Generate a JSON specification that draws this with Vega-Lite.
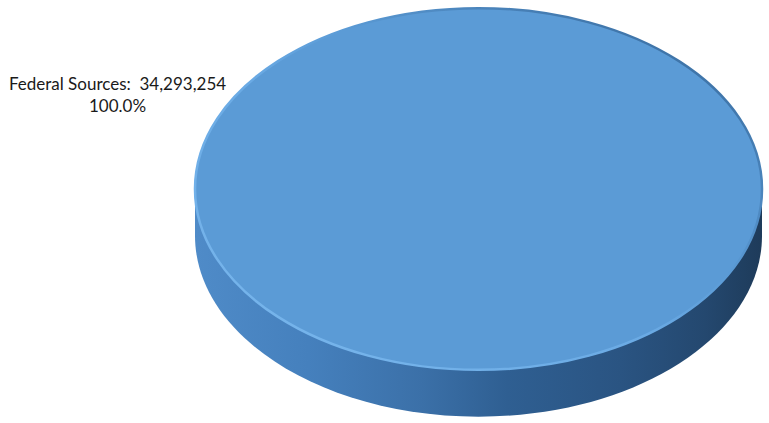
{
  "$schema": "https://vega.github.io/schema/vega-lite/v6.json",
  "width": 581,
  "height": 378,
  "autosize": {"type": "none"},
  "padding": {"left": 188, "right": 0, "top": 0, "bottom": 45},
  "background": "white",
  "config": {"view": {"stroke": null}},
  "data": {"values": [{"source": "Federal Sources", "amount": 34293254, "share": 1.0}]},
  "layer": [
    {
      "mark": {
        "type": "point",
        "filled": true,
        "opacity": 1,
        "size": 321489,
        "shape": "M -1 0 L -1 0.165 A 1 0.638 0 0 0 1 0.165 L 1 0 Z",
        "fill": {
          "gradient": "linear",
          "x1": 0, "y1": 0, "x2": 1, "y2": 0,
          "stops": [
            {"offset": 0, "color": "#4f8bc8"},
            {"offset": 0.2, "color": "#4580bd"},
            {"offset": 0.4, "color": "#3b70a8"},
            {"offset": 0.55, "color": "#2f5f92"},
            {"offset": 0.75, "color": "#2a5482"},
            {"offset": 0.9, "color": "#24486f"},
            {"offset": 1, "color": "#1e3b5a"}
          ]
        },
        "stroke": null
      }
    },
    {
      "mark": {
        "type": "point",
        "filled": true,
        "opacity": 1,
        "size": 321489,
        "shape": "M -1 0 A 1 0.638 0 1 0 1 0 A 1 0.638 0 1 0 -1 0 Z",
        "fill": "#5b9bd6",
        "stroke": {
          "gradient": "linear",
          "x1": 0, "y1": 1, "x2": 1, "y2": 0,
          "stops": [
            {"offset": 0, "color": "#7ab8ee"},
            {"offset": 0.45, "color": "#6aaae4"},
            {"offset": 0.6, "color": "#5b9bd6"},
            {"offset": 1, "color": "#2f5f90"}
          ]
        },
        "strokeWidth": 2.5
      }
    },
    {
      "transform": [
        {"calculate": "datum.source + ':\u00a0 ' + format(datum.amount, ',') + '\\n' + format(datum.share, '.1%')", "as": "label"}
      ],
      "mark": {
        "type": "text",
        "font": "Lato",
        "fontSize": 17,
        "color": "#1a1a1a",
        "align": "center",
        "baseline": "middle",
        "lineBreak": "\n",
        "lineHeight": 22,
        "dx": -361,
        "dy": -104
      },
      "encoding": {"text": {"field": "label"}}
    }
  ]
}
